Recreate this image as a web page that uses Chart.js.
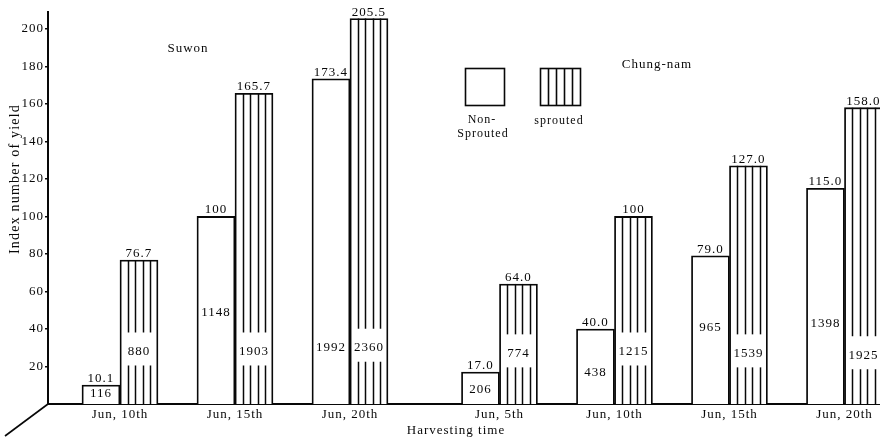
<!DOCTYPE html>
<html>
<head>
<meta charset="utf-8">
<script src="https://cdn.jsdelivr.net/npm/chart.js@4.4.1/dist/chart.umd.min.js"></script>
<style>
  html, body { margin: 0; padding: 0; background: #fff; }
  #wrap { width: 880px; height: 438px; }
</style>
</head>
<body>
<div id="wrap"><canvas id="c" width="880" height="438"></canvas></div>
<script>
// Harvest dates for each site (Suwon first, then Chung-nam)
const sites = ['Suwon', 'Chung-nam'];
const siteOf = [0, 0, 0, 1, 1, 1, 1];
const harvestDates = ['Jun, 10th', 'Jun, 15th', 'Jun, 20th', 'Jun, 5th', 'Jun, 10th', 'Jun, 15th', 'Jun, 20th'];

// Index number of yield (printed above each bar)
const indexNonSprouted = ['10.1', '100', '173.4', '17.0', '40.0', '79.0', '115.0'];
const indexSprouted    = ['76.7', '165.7', '205.5', '64.0', '100', '127.0', '158.0'];

// Yield figures printed inside the bars
const yieldNonSprouted = [116, 1148, 1992, 206, 438, 965, 1398];
const yieldSprouted    = [880, 1903, 2360, 774, 1215, 1539, 1925];

// Y axis ticks
const yTicks = [20, 40, 60, 80, 100, 120, 140, 160, 180, 200];

// Layout: height (axis units) at which the yield figures sit inside bars
const yieldAtNon = [5.5, 49, 30, 7.5, 17, 40.5, 43];
const yieldAtSpr = [28, 28, 30, 27, 28, 27, 26];
// extra space between the two sites (in date slots)
const siteGap = 0.3;

const ink = '#080808';
const serif = '"Liberation Serif", "DejaVu Serif", serif';
const slots = harvestDates.map((_, i) => i + siteOf[i] * siteGap);

function serifFont(size) { return size + 'px ' + serif; }

const decorations = {
  id: 'decorations',
  beforeLayout(chart) { chart.ctx.letterSpacing = '1px'; },
  beforeDraw(chart) { chart.ctx.letterSpacing = '1px'; },
  afterDatasetsDraw(chart) {
    const ctx = chart.ctx;
    const y = chart.scales.y;
    ctx.save();
    ctx.letterSpacing = '1px';
    ctx.strokeStyle = ink;
    ctx.fillStyle = ink;

    // vertical hatching of the sprouted bars
    const spr = chart.getDatasetMeta(1).data;
    spr.forEach((el, i) => {
      const left = el.x - el.width / 2;
      ctx.lineWidth = 1.5;
      for (let k = 1; k < 5; k++) {
        const lx = Math.round(left + k * el.width / 5) + 0.5;
        ctx.beginPath();
        ctx.moveTo(lx, el.y);
        ctx.lineTo(lx, el.base);
        ctx.stroke();
      }
      // clear a band for the yield figure
      const yc = y.getPixelForValue(yieldAtSpr[i]);
      ctx.fillStyle = '#fff';
      ctx.fillRect(left + 2, yc - 19, el.width - 4, 33);
      ctx.fillStyle = ink;
    });

    ctx.font = serifFont(13);
    ctx.textAlign = 'center';
    ctx.textBaseline = 'middle';
    spr.forEach((el, i) => {
      ctx.fillText(String(yieldSprouted[i]), el.x, y.getPixelForValue(yieldAtSpr[i]));
    });
    const non = chart.getDatasetMeta(0).data;
    non.forEach((el, i) => {
      ctx.fillText(String(yieldNonSprouted[i]), el.x, y.getPixelForValue(yieldAtNon[i]));
    });

    // index numbers above the bars
    ctx.textBaseline = 'alphabetic';
    non.forEach((el, i) => ctx.fillText(indexNonSprouted[i], el.x, el.y - 3));
    spr.forEach((el, i) => ctx.fillText(indexSprouted[i], el.x, el.y - 3));

    // site names
    ctx.textBaseline = 'middle';
    ctx.fillText(sites[0], 188, 49);
    ctx.fillText(sites[1], 657, 65);

    // legend
    ctx.lineWidth = 1.6;
    ctx.strokeRect(465.5, 68.5, 39, 37);
    ctx.strokeRect(540.5, 68.5, 40, 37);
    for (let k = 1; k < 5; k++) {
      const lx = Math.round(540 + k * 8) + 0.5;
      ctx.beginPath();
      ctx.moveTo(lx, 69);
      ctx.lineTo(lx, 105);
      ctx.stroke();
    }
    ctx.font = serifFont(12);
    ctx.fillText('Non-', 482, 120);
    ctx.fillText('Sprouted', 483, 134);
    ctx.fillText('sprouted', 559, 121);

    // axis titles
    ctx.font = serifFont(13);
    ctx.fillText('Harvesting time', 456, 431);
    ctx.save();
    ctx.font = serifFont(14);
    ctx.letterSpacing = '1.2px';
    ctx.translate(15, 179);
    ctx.rotate(-Math.PI / 2);
    ctx.fillText('Index number of yield', 0, 0);
    ctx.restore();

    // receding base line from the origin
    const x0 = chart.chartArea.left, y0 = chart.chartArea.bottom;
    ctx.lineWidth = 1.6;
    ctx.beginPath();
    ctx.moveTo(x0, y0);
    ctx.lineTo(x0 - 43, y0 + 32);
    ctx.stroke();
    ctx.restore();
  }
};

const barStyle = {
  backgroundColor: '#fff',
  borderColor: ink,
  borderWidth: 1.8,
  barThickness: 38,
  grouped: true
};

new Chart(document.getElementById('c'), {
  type: 'bar',
  data: {
    datasets: [
      Object.assign({ label: 'Non-Sprouted',
        data: slots.map((x, i) => ({ x, y: parseFloat(indexNonSprouted[i]) })) }, barStyle),
      Object.assign({ label: 'sprouted',
        data: slots.map((x, i) => ({ x, y: parseFloat(indexSprouted[i]) })) }, barStyle)
    ]
  },
  options: {
    responsive: false,
    animation: false,
    devicePixelRatio: 1,
    layout: { padding: { top: 12, right: 0, bottom: 0, left: 0 } },
    plugins: { legend: { display: false }, tooltip: { enabled: false } },
    scales: {
      x: {
        type: 'linear',
        min: -0.626,
        max: 6.609,
        offset: false,
        grid: { display: false, drawTicks: false },
        border: { display: true, color: ink, width: 2 },
        afterBuildTicks: s => { s.ticks = slots.map(v => ({ value: v })); },
        afterFit: s => { s.height = 34; },
        ticks: {
          autoSkip: false,
          maxRotation: 0,
          padding: 3,
          color: ink,
          font: { family: serif, size: 13 },
          callback: (v, i) => harvestDates[i]
        }
      },
      y: {
        min: 0,
        max: 209,
        grid: { display: true, drawOnChartArea: false, drawTicks: true, tickLength: 3, color: ink, lineWidth: 1.5 },
        border: { display: true, color: ink, width: 2 },
        afterBuildTicks: s => { s.ticks = yTicks.map(v => ({ value: v })); },
        afterFit: s => { s.width = 48; },
        ticks: {
          padding: 1,
          color: ink,
          font: { family: serif, size: 13 }
        }
      }
    }
  },
  plugins: [decorations]
});
</script>
</body>
</html>
